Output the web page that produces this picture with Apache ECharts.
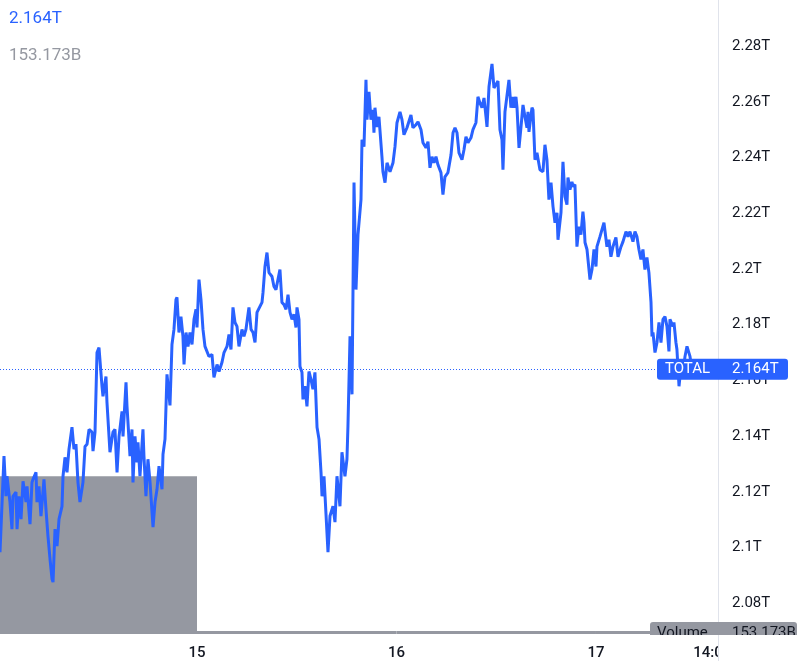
<!DOCTYPE html>
<html><head><meta charset="utf-8">
<script src="https://cdn.jsdelivr.net/npm/echarts@6/dist/echarts.min.js"></script>
<style>html,body{margin:0;padding:0;background:#fff}#c{width:797px;height:661px}</style>
</head><body><div id="c"></div>
<script>
// time in hours since 14 Nov 00:00; values in billions (B)
const hours = [
0.30,0.78,1.02,1.14,1.50,1.74,1.86,2.22,2.35,2.59,
2.83,3.07,3.43,3.55,3.91,4.15,4.27,4.63,4.75,4.99,
5.23,5.59,5.83,6.07,6.32,6.56,6.68,6.92,7.16,7.40,
7.76,7.88,8.12,8.36,8.60,8.96,9.20,9.44,9.68,9.92,
10.28,10.53,10.77,11.01,11.37,11.49,11.73,11.97,12.21,12.57,
12.69,13.05,13.17,13.53,13.89,14.13,14.38,14.62,14.98,15.10,
15.46,15.58,15.94,16.18,16.30,16.54,16.78,16.90,17.14,17.50,
17.62,17.86,18.10,18.35,18.71,18.95,19.19,19.43,19.79,19.91,
20.15,20.39,20.75,20.99,21.23,
21.47,21.59,21.83,22.07,22.31,22.44,22.68,22.92,23.16,23.40,
23.64,23.88,24.00,24.24,24.48,24.72,24.96,25.20,25.44,25.80,
26.04,26.41,26.65,27.01,27.25,27.61,27.85,28.09,28.33,28.57,
28.81,29.05,29.41,29.65,29.89,30.25,30.50,30.74,30.98,31.22,
31.46,31.82,31.94,32.18,32.42,32.66,33.02,33.26,33.50,33.74,
33.98,34.22,34.47,34.71,34.95,35.19,35.43,35.67,35.91,36.03,
36.27,36.39,36.63,36.75,36.99,37.23,37.47,37.71,37.95,38.19,
38.44,38.68,38.92,39.04,39.28,39.52,39.76,40.00,40.36,40.60,
40.84,41.20,41.44,41.80,42.04,42.16,42.41,42.65,42.89,43.13,
43.37,43.73,43.85,44.09,44.33,
44.45,44.69,44.93,45.17,45.29,45.41,45.65,45.89,46.25,46.37,
46.62,46.86,47.22,47.58,47.82,48.06,48.42,48.66,48.90,49.26,
49.50,49.74,49.98,50.34,50.59,50.95,51.19,51.55,51.79,52.03,
52.27,52.51,52.75,52.99,53.35,53.59,53.83,54.19,54.56,54.80,
55.04,55.28,55.52,55.88,56.12,56.36,56.60,56.96,57.20,57.56,
57.80,58.04,58.28,58.53,58.77,58.89,59.13,59.49,59.73,59.97,
60.21,60.45,60.69,60.81,61.05,61.29,
61.53,61.77,62.01,62.13,62.37,62.50,62.74,62.98,63.22,63.46,
63.70,63.82,63.94,64.30,64.42,64.66,64.90,65.26,65.62,65.86,
66.10,66.34,66.59,66.83,67.07,67.31,67.43,67.79,68.03,68.27,
68.51,68.63,68.87,69.11,69.23,69.47,69.71,69.95,70.19,70.43,
70.56,70.68,70.92,71.28,71.52,71.76,72.00,72.12,72.48,72.72,
72.96,73.32,73.56,73.80,74.04,74.40,74.65,75.01,75.25,75.61,
75.85,76.09,76.45,76.69,76.93,77.17,77.41,77.65,77.89,78.13,
78.37,78.62,78.74,78.86,79.10,79.34,79.58,79.82,80.06,80.30,
80.54,80.78,80.90,81.26,81.38,81.62,81.74,81.99,82.23,82.47,
82.71,82.95,83.31,83.55
];
const values = [
2098.3,2132.8,2118.4,2125.6,2116.3,2106.6,2118.4,2119.9,2106.6,2118.4,
2110.2,2123.8,2116.3,2122.0,2108.4,2123.4,2124.5,2127.0,2116.3,2122.0,
2111.3,2124.5,2113.8,2104.1,2095.8,2088.7,2087.6,2106.6,2100.5,2110.2,
2114.8,2125.6,2132.4,2127.0,2135.3,2143.2,2135.3,2137.1,2123.4,2116.3,
2123.4,2136.3,2137.1,2142.4,2141.4,2134.6,2141.4,2170.0,2171.8,2157.9,
2154.3,2161.4,2152.1,2134.2,2141.4,2142.4,2127.0,2139.9,2148.9,2139.9,
2159.3,2150.7,2132.8,2142.4,2123.4,2139.9,2130.6,2137.8,2125.6,2142.4,
2132.8,2118.4,2131.7,2123.4,2107.3,2116.3,2120.9,2129.2,2120.9,2133.5,
2138.9,2162.2,2151.0,2172.9,2178.3,
2189.0,2189.8,2177.2,2182.9,2175.8,2165.7,2177.2,2172.2,2177.2,2172.9,
2181.9,2185.5,2179.0,2196.2,2189.0,2178.3,2172.2,2172.9,2168.6,2169.3,
2161.1,2165.7,2163.2,2166.5,2170.0,2172.2,2176.5,2171.1,2186.2,2180.8,
2179.4,2172.2,2178.3,2175.8,2178.3,2186.2,2178.3,2177.2,2173.6,2184.4,
2184.4,2188.0,2191.5,2200.9,2205.9,2198.7,2197.3,2193.7,2192.6,2196.2,
2199.8,2188.0,2187.2,2185.5,2190.8,2184.4,2181.9,2183.7,2179.0,2186.2,
2181.9,2165.0,2162.9,2153.2,2157.9,2150.7,2163.2,2160.4,2156.8,2162.9,
2143.2,2138.9,2127.0,2118.4,2125.6,2112.0,2098.3,2111.3,2114.8,2109.1,
2125.6,2114.8,2134.2,2125.6,2131.7,2143.5,2175.8,2155.0,2231.0,2192.6,
2212.3,2224.9,2246.4,2243.9,2267.9,
2253.6,2263.6,2253.6,2257.1,2248.9,2257.9,2251.0,2254.6,2240.3,2234.9,
2231.0,2238.1,2234.9,2238.1,2243.9,2252.5,2256.4,2253.6,2248.2,2250.7,
2250.0,2255.3,2250.7,2251.8,2252.8,2250.0,2245.3,2243.5,2245.7,2236.3,
2240.3,2238.1,2240.3,2237.4,2234.6,2226.7,2233.1,2234.6,2241.0,2248.9,
2250.7,2248.9,2241.7,2239.2,2242.8,2247.5,2245.3,2247.1,2250.0,2252.5,
2261.8,2259.6,2257.9,2261.4,2254.6,2251.0,2265.4,2273.6,2265.0,2265.0,
2267.5,2250.0,2246.4,2235.6,2256.4,2257.1,
2267.9,2257.9,2261.8,2257.9,2261.8,2257.9,2243.5,2251.0,2258.9,2254.6,
2250.7,2256.4,2249.2,2257.9,2257.1,2239.2,2241.7,2235.6,2234.9,2244.6,
2239.2,2224.9,2231.0,2222.4,2216.6,2220.2,2210.5,2220.2,2238.5,2226.0,
2223.1,2232.8,2228.5,2231.3,2229.5,2230.3,2208.0,2215.2,2212.3,2220.6,
2216.6,2209.5,2207.0,2196.2,2199.8,2207.0,2200.9,2208.0,2211.6,2214.1,
2216.6,2208.0,2210.5,2204.4,2208.0,2211.3,2204.4,2208.0,2209.8,2213.4,
2211.6,2213.4,2209.8,2213.4,2211.6,2207.0,2203.4,2207.0,2199.8,2204.1,
2198.7,2188.0,2175.8,2177.2,2170.0,2173.6,2180.8,2173.6,2181.9,2182.9,
2179.4,2170.4,2181.9,2179.4,2180.8,2173.6,2171.1,2157.9,2165.0,2162.9,
2168.6,2172.2,2168.6,2164.0
];
// daily volume bars (hours start/end, volume in B)
const volStart = [0, 24, 48, 72];
const volEnd = [24, 48, 72, 96];
const volumes = [8060, 150, 158, 153.173];
const yTicks = [2080, 2100, 2120, 2140, 2160, 2180, 2200, 2220, 2240, 2260, 2280];
const xTicks = [24, 48, 72, 86];
const xTickLabels = ['15', '16', '17', '14:00'];
const seriesName = 'TOTAL';
const lastPrice = 2164;
const lastPriceText = '2.164T';
const lastVolumeText = '153.173B';

const blue = '#2962ff';
const grey = '#9598a1';
const ink = '#131722';
const font = 'Roboto, "Liberation Sans", sans-serif';

const chart = echarts.init(document.getElementById('c'), null, {renderer: 'canvas'});
const lineData = hours.map((h, i) => [h, values[i]]);
const volData = volumes.map((v, i) => [volStart[i], volEnd[i], v]);

chart.setOption({
  animation: false,
  backgroundColor: '#fff',
  grid: {left: 0, right: 79, top: 0, bottom: 26, containLabel: false},
  xAxis: {
    type: 'value', min: 0.30, max: 86.68,
    axisLine: {show: false}, axisTick: {show: false}, splitLine: {show: false},
    axisLabel: {
      customValues: xTicks,
      formatter: v => { const i = xTicks.indexOf(v); return i >= 0 ? xTickLabels[i] : ''; },
      color: ink, fontSize: 15, fontFamily: font, fontWeight: 500, margin: 12
    }
  },
  yAxis: [{
    type: 'value', position: 'right', min: 2068.96, max: 2296.56,
    axisLine: {show: false}, axisTick: {show: false}, splitLine: {show: false},
    axisLabel: {
      customValues: yTicks,
      formatter: v => String(+(v / 1000).toFixed(3)) + 'T',
      color: ink, fontSize: 15, fontFamily: font, margin: 14
    }
  }, {
    type: 'value', min: 0, max: 32400, show: false
  }],
  series: [{
    type: 'custom', name: 'Volume', yAxisIndex: 1, clip: true, z: 1,
    data: volData,
    renderItem: (params, api) => {
      const a = api.coord([api.value(0), api.value(2)]);
      const b = api.coord([api.value(1), 0]);
      return {type: 'rect', shape: {x: a[0], y: a[1], width: b[0] - a[0], height: b[1] - a[1]}, style: {fill: grey}};
    }
  }, {
    type: 'line', name: seriesName, data: lineData, showSymbol: false, z: 3,
    lineStyle: {color: blue, width: 3}, itemStyle: {color: blue},
    markLine: {
      silent: true, symbol: ['none', 'none'], label: {show: false},
      lineStyle: {type: [1, 2], color: blue, width: 1},
      data: [{yAxis: lastPrice}]
    }
  }]
});

const py = chart.convertToPixel({yAxisIndex: 0}, lastPrice);
chart.setOption({
  graphic: [
    {type: 'line', z: 50, shape: {x1: 718.5, y1: 0, x2: 718.5, y2: 661}, style: {stroke: '#e0e3eb', lineWidth: 1}},
    {type: 'text', z: 60, x: 9, y: 19, style: {text: lastPriceText, fill: blue, font: '17px ' + font, verticalAlign: 'middle'}},
    {type: 'text', z: 60, x: 9, y: 56, style: {text: lastVolumeText, fill: grey, font: '17px ' + font, verticalAlign: 'middle'}},
    {type: 'rect', z: 60, shape: {x: 650, y: 622, width: 147, height: 20, r: 3}, style: {fill: grey}},
    {type: 'text', z: 61, x: 657, y: 633, style: {text: 'Volume', fill: ink, font: '15px ' + font, verticalAlign: 'middle'}},
    {type: 'text', z: 61, x: 732, y: 633, style: {text: lastVolumeText, fill: ink, font: '15px ' + font, verticalAlign: 'middle'}},
    {type: 'rect', z: 62, shape: {x: 640, y: 635, width: 157, height: 8}, style: {fill: '#fff'}},
    {type: 'rect', z: 62, shape: {x: 719, y: 643, width: 78, height: 18}, style: {fill: '#fff'}},
    {type: 'line', z: 63, shape: {x1: 718.5, y1: 635, x2: 718.5, y2: 661}, style: {stroke: '#e0e3eb', lineWidth: 1}},
    {type: 'rect', z: 70, shape: {x: 657, y: py - 10.5, width: 131, height: 21, r: 3}, style: {fill: blue}},
    {type: 'text', z: 71, x: 665, y: py, style: {text: seriesName, fill: '#fff', font: '15px ' + font, verticalAlign: 'middle'}},
    {type: 'text', z: 71, x: 732, y: py, style: {text: lastPriceText, fill: '#fff', font: '15px ' + font, verticalAlign: 'middle'}}
  ]
});
</script></body></html>
